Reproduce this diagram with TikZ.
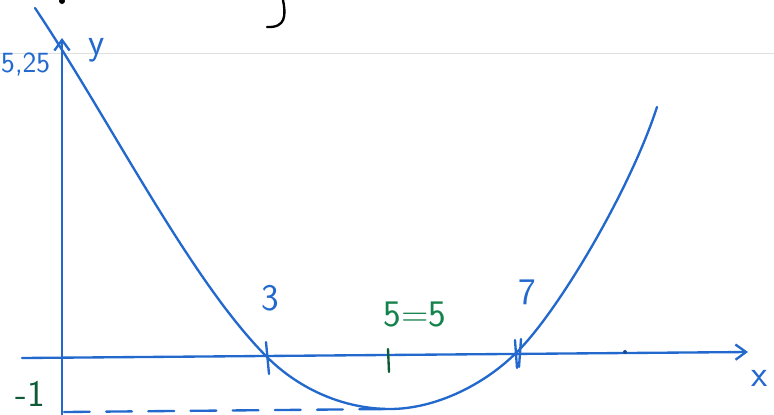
\documentclass[tikz,border=0pt]{standalone}
\usepackage{tikz}
\usetikzlibrary{arrows.meta,positioning}
\definecolor{pen}{RGB}{35,105,205}
\definecolor{greenpen}{RGB}{20,130,75}
\tikzset{
  ink/.style={draw=pen,line width=2pt,line cap=round,line join=round},
  lbl/.style={font=\sffamily\fontsize{32}{32}\selectfont,inner sep=0pt},
}

\begin{document}
\begin{tikzpicture}[x=0.03cm,y=-0.03cm,>={Straight Barb[length=9pt,width=13pt]}]
\useasboundingbox (0,0) rectangle (774,415);
% ruled line of the paper
\draw[black!12,line width=0.6pt] (0,53) -- (774,53);
% axes
\coordinate (ybot) at (62,415);
\coordinate (ytop) at (62,38);
\coordinate (xl) at (22,358);
\coordinate (xr) at (748,352);
\draw[ink,->] (ybot) -- (ytop);
\draw[ink,->] (xl) -- (xr);
% zeros and vertex
\coordinate (z3) at (267,357);
\coordinate (z7) at (519,350);
\coordinate (vx) at (390,409);
\coordinate (cstart) at (35,8);
\coordinate (cend) at (657,107);
\draw[ink] (266,342) -- (269,374);
\draw[ink] (515,340) -- (517,368);
\draw[ink] (521,339) -- (519,367);
\draw[greenpen!70!black,line width=2pt,line cap=round] (388,349) -- (389,372);
\fill[pen!70!black] (625,352) circle (2);
% parabola
\draw[ink] (cstart) .. controls (110,120) and (190,280) .. (z3)
  .. controls (300,390) and (345,409) .. (vx)
  .. controls (435,409) and (485,385) .. (z7)
  .. controls (560,308) and (630,190) .. (cend);
\draw[ink,dash pattern=on 22pt off 14pt] (64,412) -- (vx);
% labels
\node[lbl,text=pen,anchor=west,font=\sffamily\fontsize{25}{25}\selectfont] (c) at (1,64) {5,25};
\node[lbl,text=pen] (ylab) at (97,50) {y};
\node[lbl,text=pen] (xlab) at (760,378) {x};
\node[lbl,text=pen] (three) at (270,298) {3};
\node[lbl,text=greenpen] (vert) at (415,314) {5=5};
\node[lbl,text=pen] (seven) at (527,292) {7};
\node[lbl,text=greenpen!70!black] (m1) at (30,394) {-1};
% scraps of the page above
\fill[black] (62,1) circle (3);
\draw[black,line width=2pt,line cap=round] (283,0) .. controls (286,15) and (286,28) .. (267,27);
\end{tikzpicture}
\end{document}
